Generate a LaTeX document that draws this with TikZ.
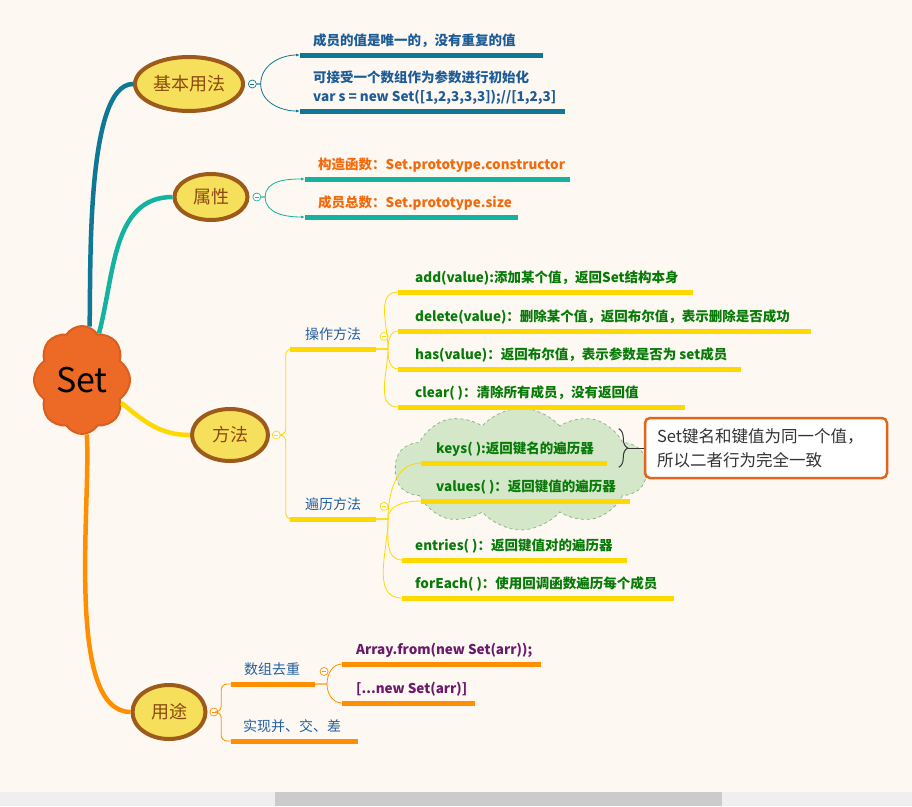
\documentclass[tikz,border=0pt]{standalone}
\usepackage{fontspec}
\setmainfont{Noto Sans CJK SC}
\usetikzlibrary{arrows.meta,positioning,shapes,decorations.pathreplacing}
\definecolor{paper}{HTML}{FDF8F2}
\definecolor{darkteal}{HTML}{0F7894}
\definecolor{teal2}{HTML}{14B3A0}
\definecolor{gold}{HTML}{FFD800}
\definecolor{orange2}{HTML}{FF8F00}
\definecolor{topicfill}{HTML}{F5DF5B}
\definecolor{topicline}{HTML}{9C5A1B}
\definecolor{topictext}{HTML}{8C4A12}
\definecolor{subblue}{HTML}{2360A2}
\definecolor{leafblue}{HTML}{1D5C96}
\definecolor{leaforange}{HTML}{F26A0C}
\definecolor{leafgreen}{HTML}{087A08}
\definecolor{leafpurple}{HTML}{6A1A6A}
\definecolor{setfill}{HTML}{EC6A26}
\definecolor{setline}{HTML}{DA5F1F}
\definecolor{cloudfill}{HTML}{D4E8C9}
\definecolor{cloudline}{HTML}{8DB88A}
\definecolor{noteline}{HTML}{E2651E}
\definecolor{scrolltrack}{HTML}{EFEFEF}
\definecolor{scrollthumb}{HTML}{CBCBCB}

\begin{document}
\begin{tikzpicture}[x=1pt,y=1pt,
  topic/.style={ellipse,draw=topicline,line width=4pt,fill=topicfill,text=topictext,inner sep=0pt,font=\fontsize{18}{18}\selectfont},
  fold/.style={circle,draw=#1,fill=white,line width=0.7pt,minimum size=8pt,inner sep=0pt,
    path picture={\draw[#1,line width=0.8pt] ([xshift=-2pt]path picture bounding box.center) -- ([xshift=2pt]path picture bounding box.center);}},
  bar/.style={anchor=west,fill=#1,minimum height=5pt,inner sep=0pt,outer sep=0pt},
  txt/.style={inner sep=0pt,text depth=0pt,align=left,font=\fontsize{13.5}{19}\selectfont\bfseries},
  sub/.style={inner sep=0pt,text depth=0pt,text=subblue,font=\fontsize{14}{14}\selectfont},
  branch/.style={draw=#1,line width=4.5pt},
  link/.style={draw=#1,line width=0.8pt},
  note/.style={rectangle,rounded corners=5pt,draw=noteline,line width=2.5pt,fill=white,minimum width=242pt,minimum height=60pt,
    text width=218pt,align=left,text=black!80,font=\fontsize{16.5}{24}\selectfont}
]
\useasboundingbox (0,0) rectangle (912,-806);
\fill[paper] (0,0) rectangle (912,-806);
\fill[scrolltrack] (0,-792) rectangle (912,-806);
\fill[scrollthumb] (275,-792) rectangle (722,-806);

\node[cloud,cloud puffs=8,cloud puff arc=115,cloud ignores aspect,draw=setline,line width=2pt,fill=setfill,
  minimum width=96pt,minimum height=108pt,font=\fontsize{34}{34}\selectfont] (set) at (82,-380) {Set};

\node[topic,minimum width=108pt,minimum height=54pt] (base) at (189,-84) {基本用法};
\node[topic,minimum width=73pt,minimum height=46pt] (attr) at (211,-197) {属性};
\node[topic,minimum width=76pt,minimum height=52pt] (meth) at (230,-435) {方法};
\node[topic,minimum width=73pt,minimum height=54pt] (use) at (169,-712) {用途};

\node[fold=darkteal,right=3pt of base] (fb) {};
\node[fold=teal2,right=3pt of attr] (fa) {};
\node[fold=gold,right=2pt of meth] (fm) {};
\node[fold=orange2,right=2pt of use] (fu) {};

\node[cloud,cloud puffs=10,cloud puff arc=100,cloud ignores aspect,draw=cloudline,dashed,line width=0.8pt,fill=cloudfill,
  minimum width=252pt,minimum height=122pt] (grp) at (521,-469) {};

\node[bar=darkteal,minimum width=243pt] (b1) at (300,-55) {};
\node[bar=darkteal,minimum width=265pt] (b2) at (300,-111) {};
\node[bar=teal2,minimum width=265pt] (b3) at (305,-179) {};
\node[bar=teal2,minimum width=213pt] (b4) at (305,-217) {};
\node[txt,text=leafblue,above right=7pt and 13pt of b1.north west] (t1) {成员的值是唯一的，没有重复的值};
\node[txt,text=leafblue,above right=7pt and 13pt of b2.north west] (t2) {可接受一个数组作为参数进行初始化\\var s = new Set([1,2,3,3,3]);//[1,2,3]};
\node[txt,text=leaforange,above right=7pt and 13pt of b3.north west] (t3) {构造函数：Set.prototype.constructor};
\node[txt,text=leaforange,above right=7pt and 13pt of b4.north west] (t4) {成员总数：Set.prototype.size};

\node[bar=gold,minimum width=86pt] (op) at (290,-349) {};
\node[bar=gold,minimum width=86pt] (trav) at (290,-519) {};
\node[sub,above right=7pt and 15pt of op.north west] (opt) {操作方法};
\node[sub,above right=7pt and 15pt of trav.north west] (travt) {遍历方法};
\node[fold=gold,above right=7pt and 5pt of op.north east] (fop) {};
\node[fold=gold,above right=7pt and 5pt of trav.north east] (ftrav) {};

\node[bar=gold,minimum width=295pt] (add) at (398,-292) {};
\node[bar=gold,minimum width=413pt] (del) at (398,-331) {};
\node[bar=gold,minimum width=343pt] (has) at (398,-369) {};
\node[bar=gold,minimum width=287pt] (clr) at (398,-407) {};
\node[bar=gold,minimum width=186pt] (keys) at (421,-463) {};
\node[bar=gold,minimum width=209pt] (vals) at (421,-501) {};
\node[bar=gold,minimum width=225pt] (ent) at (402,-560) {};
\node[bar=gold,minimum width=272pt] (each) at (402,-598) {};
\node[txt,text=leafgreen,above right=7pt and 17pt of add.north west] (addt) {add(value):添加某个值，返回Set结构本身};
\node[txt,text=leafgreen,above right=7pt and 17pt of del.north west] (delt) {delete(value)：删除某个值，返回布尔值，表示删除是否成功};
\node[txt,text=leafgreen,above right=7pt and 17pt of has.north west] (hast) {has(value)：返回布尔值，表示参数是否为 set成员};
\node[txt,text=leafgreen,above right=7pt and 17pt of clr.north west] (clrt) {clear( )：清除所有成员，没有返回值};
\node[txt,text=leafgreen,above right=7pt and 15pt of keys.north west] (keyst) {keys( ):返回键名的遍历器};
\node[txt,text=leafgreen,above right=7pt and 15pt of vals.north west] (valst) {values( )：返回键值的遍历器};
\node[txt,text=leafgreen,above right=7pt and 13pt of ent.north west] (entt) {entries( )：返回键值对的遍历器};
\node[txt,text=leafgreen,above right=7pt and 13pt of each.north west] (eacht) {forEach( )：使用回调函数遍历每个成员};

\node[note] (note) at (766,-448) {Set键名和键值为同一个值，\\所以二者行为完全一致};
\draw[decorate,decoration={brace,amplitude=9pt},line width=1pt,black!80]
  ([xshift=-25pt,yshift=-12pt]note.north west) -- ([xshift=-25pt,yshift=12pt]note.south west);
\draw[line width=1pt,black!80] ([xshift=-16pt]note.west) -- (note.west);

\node[bar=orange2,minimum width=84pt] (dedup) at (231,-684) {};
\node[bar=orange2,minimum width=127pt] (ops) at (231,-741) {};
\node[sub,above right=7pt and 13pt of dedup.north west] (dedupt) {数组去重};
\node[sub,above right=7pt and 12pt of ops.north west] (opst) {实现并、交、差};
\node[fold=orange2,above right=7pt and 6pt of dedup.north east] (fdedup) {};
\node[bar=orange2,minimum width=199pt] (arr1) at (342,-664) {};
\node[bar=orange2,minimum width=133pt] (arr2) at (342,-703) {};
\node[txt,text=leafpurple,above right=7pt and 14pt of arr1.north west] (arr1t) {Array.from(new Set(arr));};
\node[txt,text=leafpurple,above right=7pt and 14pt of arr2.north west] (arr2t) {[...new Set(arr)]};

\draw[branch=darkteal] (set.82) to[out=88,in=180,looseness=0.5] (base.west);
\draw[branch=teal2] (set.70) to[out=75,in=180] (attr.west);
\draw[branch=gold] (set.-30) to[out=-40,in=180] (meth.west);
\draw[branch=orange2] (set.-85) to[out=-86,in=180,looseness=0.6] (use.west);

\draw[link=darkteal,-{Latex[length=4pt,width=3pt]}] (fb.east) -- ++(4pt,0) to[out=90,in=180] (b1.west);
\draw[link=darkteal,-{Latex[length=4pt,width=3pt]}] (fb.east) -- ++(4pt,0) to[out=-90,in=180] (b2.west);
\draw[link=teal2,-{Latex[length=4pt,width=3pt]}] (fa.east) -- ++(4pt,0) to[out=90,in=180] (b3.west);
\draw[link=teal2,-{Latex[length=4pt,width=3pt]}] (fa.east) -- ++(4pt,0) to[out=-90,in=180] (b4.west);

\draw[link=gold,rounded corners=6pt] (fm.east) -- ++(5pt,0) |- (op.west);
\draw[link=gold,rounded corners=6pt] (fm.east) -- ++(5pt,0) |- (trav.west);
\draw[link=gold] (op.east) -- ++(12pt,0) to[out=90,in=180] (add.west);
\draw[link=gold] (op.east) -- ++(12pt,0) to[out=90,in=180] (del.west);
\draw[link=gold] (op.east) -- ++(12pt,0) to[out=-90,in=180] (has.west);
\draw[link=gold] (op.east) -- ++(12pt,0) to[out=-90,in=180] (clr.west);
\draw[link=gold] (trav.east) -- ++(12pt,0) to[out=90,in=180] (keys.west);
\draw[link=gold] (trav.east) -- ++(12pt,0) to[out=90,in=180] (vals.west);
\draw[link=gold] (trav.east) -- ++(12pt,0) to[out=-90,in=180] (ent.west);
\draw[link=gold] (trav.east) -- ++(12pt,0) to[out=-90,in=180] (each.west);

\draw[link=orange2,rounded corners=6pt] (fu.east) -- ++(3pt,0) |- (dedup.west);
\draw[link=orange2,rounded corners=6pt] (fu.east) -- ++(3pt,0) |- (ops.west);
\draw[link=orange2] (dedup.east) -- ++(12pt,0) to[out=90,in=180] (arr1.west);
\draw[link=orange2] (dedup.east) -- ++(12pt,0) to[out=-90,in=180] (arr2.west);
\end{tikzpicture}
\end{document}
